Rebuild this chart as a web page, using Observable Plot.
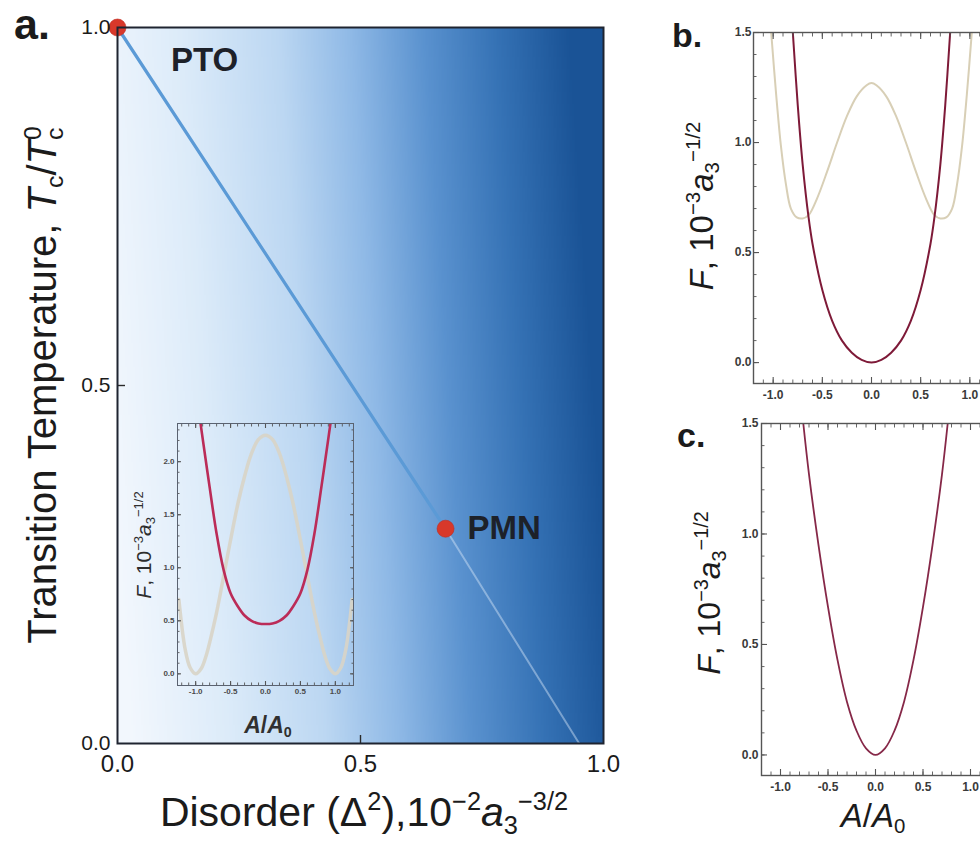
<!DOCTYPE html>
<html>
<head>
<meta charset="utf-8">
<script src="https://cdn.jsdelivr.net/npm/d3@7"></script>
<script src="https://cdn.jsdelivr.net/npm/@observablehq/plot@0.6"></script>
<style>
  html, body { margin: 0; padding: 0; background: #fff; overflow: hidden; }
  #fig { position: relative; width: 980px; height: 841px; overflow: hidden; background: #fff;
         font-family: "Liberation Sans", Arial, Helvetica, sans-serif; color: #1b1b1b; }
  .panel { position: absolute; }
  .panel svg { display: block; max-width: none; }
  .lbl { position: absolute; white-space: nowrap; line-height: 1; }
  .sp { font-size: 0.62em; position: relative; top: -0.62em; }
  .sb { font-size: 0.62em; position: relative; top: 0.3em; }
</style>
</head>
<body>
<div id="fig"></div>
<script>
// ---------- Panel a: transition temperature vs disorder ----------
const compounds = ["PTO", "PMN"];
const disorder = [0, 0.675];          // Δ², 10^-2 a3^-3/2
const tcRatio = [1, 0.3];             // Tc / Tc0
const extDisorder = [0.675, 0.95];    // continuation of the line down to Tc = 0
const extTc = [0.3, 0];
const aTicks = [0, 0.5, 1];
// shading of the disorder plane (left: ordered, right: strongly disordered)
const shadeStops = [0, 0.2, 0.4, 0.55, 0.7, 0.85, 1];
const shadeColors = ["#f2f7fd", "#dcebf9", "#bcd7f2", "#8fb9e6", "#5a92cf", "#3572b5", "#1a5396"];

// ---------- Inset: free energy F(A/A0) ----------
const insetA = [-1.24, -1.15, -1.08, -1.0, -0.92, -0.85, -0.79, -0.7, -0.64, -0.53, -0.45, -0.39, -0.3, -0.21, -0.1,
                0, 0.1, 0.21, 0.3, 0.39, 0.45, 0.53, 0.64, 0.7, 0.79, 0.85, 0.92, 1.0, 1.08, 1.15, 1.24];
const insetOrdered = [0.70, 0.23, 0.06, 0.00, 0.05, 0.17, 0.32, 0.58, 0.78, 1.16, 1.43, 1.62, 1.86, 2.06, 2.21,
                      2.25, 2.21, 2.06, 1.86, 1.62, 1.43, 1.16, 0.78, 0.58, 0.32, 0.17, 0.05, 0.00, 0.06, 0.23, 0.70];
const insetRelaxA = [-0.93, -0.9, -0.8, -0.7, -0.6, -0.5, -0.4, -0.3, -0.2, -0.1, 0,
                     0.1, 0.2, 0.3, 0.4, 0.5, 0.6, 0.7, 0.8, 0.9, 0.93];
const insetRelaxF = [2.36, 2.22, 1.76, 1.32, 0.98, 0.76, 0.64, 0.55, 0.5, 0.475, 0.47,
                     0.475, 0.5, 0.55, 0.64, 0.76, 0.98, 1.32, 1.76, 2.22, 2.36];
const insetXTicks = [-1, -0.5, 0, 0.5, 1];
const insetYTicks = [0, 0.5, 1, 1.5, 2];

// ---------- Panel b ----------
const bWellA = [-1.02, -0.97, -0.92, -0.87, -0.82, -0.76, -0.7, -0.64, -0.55, -0.45, -0.35, -0.25, -0.15, -0.05,
                0, 0.05, 0.15, 0.25, 0.35, 0.45, 0.55, 0.64, 0.7, 0.76, 0.82, 0.87, 0.92, 0.97, 1.02];
const bWellF = [1.5, 1.22, 0.98, 0.81, 0.7, 0.66, 0.655, 0.67, 0.75, 0.87, 1.0, 1.12, 1.21, 1.26,
                1.27, 1.26, 1.21, 1.12, 1.0, 0.87, 0.75, 0.67, 0.655, 0.66, 0.7, 0.81, 0.98, 1.22, 1.5];
const bBowlA = [-0.8, -0.75, -0.7, -0.64, -0.6, -0.5, -0.4, -0.3, -0.2, -0.1, 0,
                0.1, 0.2, 0.3, 0.4, 0.5, 0.6, 0.64, 0.7, 0.75, 0.8];
const bBowlF = [1.5, 1.17, 0.9, 0.66, 0.54, 0.33, 0.19, 0.1, 0.045, 0.012, 0,
                0.012, 0.045, 0.1, 0.19, 0.33, 0.54, 0.66, 0.9, 1.17, 1.5];

// ---------- Panel c ----------
const cBowlA = [-0.76, -0.7, -0.6, -0.5, -0.4, -0.3, -0.2, -0.1, 0, 0.1, 0.2, 0.3, 0.4, 0.5, 0.6, 0.7, 0.76];
const cBowlF = [1.5, 1.27, 0.95, 0.67, 0.43, 0.24, 0.11, 0.03, 0, 0.03, 0.11, 0.24, 0.43, 0.67, 0.95, 1.27, 1.5];

const sideXTicks = [-1, -0.5, 0, 0.5, 1];
const sideYTicks = [0, 0.5, 1, 1.5];

// ---------- helpers ----------
const zip = (xs, ys) => xs.map((x, i) => ({x, y: ys[i]}));
const fmt1 = d => d.toFixed(1);
const blank = () => "";
const FONT = '"Liberation Sans", Arial, Helvetica, sans-serif';
const svgStyle = {background: "transparent", overflow: "visible", maxWidth: "none", fontFamily: FONT};
const tenths = (lo, hi) => d3.range(lo, hi + 1).map(i => i / 10);

// short tick marks pointing into the frame: an axis whose ticks are shifted back across the edge
function inwardTicks(values, side, len, stroke, width) {
  const base = {ticks: values, tickSize: len, tickFormat: blank, label: null, stroke, strokeWidth: width};
  if (side === "bottom") return Plot.axisX({...base, anchor: "bottom", dy: -len});
  if (side === "top") return Plot.axisX({...base, anchor: "top", dy: len});
  if (side === "left") return Plot.axisY({...base, anchor: "left", dx: len});
  return Plot.axisY({...base, anchor: "right", dx: -len});
}

// Mathematica-style frame: inward major/minor ticks on all four sides, labels bottom/left
function frameAxes({xMajor, xMinor, yMajor, yMinor, font, color, padX, padY, major, minor, frameColor, frameWidth}) {
  const lab = {tickSize: 0, tickFormat: fmt1, fontSize: font, fontWeight: "bold", fill: color, label: null};
  const tc = "#555";
  return [
    ...["bottom", "top"].map(s => inwardTicks(xMinor, s, minor, tc, 0.9)),
    ...["bottom", "top"].map(s => inwardTicks(xMajor, s, major, tc, 1.1)),
    ...["left", "right"].map(s => inwardTicks(yMinor, s, minor, tc, 0.9)),
    ...["left", "right"].map(s => inwardTicks(yMajor, s, major, tc, 1.1)),
    Plot.axisX({...lab, ticks: xMajor, tickPadding: padX}),
    Plot.axisY({...lab, ticks: yMajor, tickPadding: padY}),
    Plot.frame({stroke: frameColor, strokeWidth: frameWidth})
  ];
}

const fig = document.getElementById("fig");
function place(node, left, top) {
  const d = document.createElement("div");
  d.className = "panel";
  d.style.left = left + "px";
  d.style.top = top + "px";
  d.appendChild(node);
  fig.appendChild(d);
}
function label(html, cx, cy, size, extra = "") {
  const d = document.createElement("div");
  d.className = "lbl";
  d.innerHTML = html;
  d.style.cssText += `left:${cx}px;top:${cy}px;font-size:${size}px;${extra}`;
  fig.appendChild(d);
  return d;
}

// ---------- draw panel a ----------
const points = compounds.map((name, i) => ({name, d: disorder[i], t: tcRatio[i]}));
const extension = extDisorder.map((d, i) => ({d, t: extTc[i]}));

const plotA = Plot.plot({
  width: 640, height: 790,
  marginLeft: 117, marginRight: 37, marginTop: 27, marginBottom: 47,
  style: svgStyle,
  x: {domain: [0, 1]},
  y: {domain: [0, 1]},
  color: {type: "linear", domain: shadeStops, range: shadeColors, interpolate: "rgb", clamp: true},
  marks: [
    Plot.raster({x1: 0, x2: 1, y1: 0, y2: 1, width: 300, height: 60, fill: (x, y) => x + 0.1 * (y - 0.3), imageRendering: "auto"}),
    Plot.line(extension, {x: "d", y: "t", stroke: "#d6e7f8", strokeWidth: 2, strokeOpacity: 0.45}),
    Plot.line(points, {x: "d", y: "t", stroke: "#5b9ad6", strokeWidth: 3.2}),
    Plot.dot(points, {x: "d", y: "t", r: 8.5, fill: "#d8382a", stroke: "#c02a20", strokeWidth: 0.6}),
    Plot.text(points.slice(0, 1), {x: "d", y: "t", text: "name", dx: 87, dy: 33, fontSize: 33, fontWeight: "bold", fill: "#1d2129"}),
    Plot.text(points.slice(1), {x: "d", y: "t", text: "name", dx: 22, textAnchor: "start", fontSize: 33, fontWeight: "bold", fill: "#1d2129"}),
    inwardTicks([0.5], "left", 8, "#2a2a2a", 1.4),
    inwardTicks([0.5], "bottom", 8, "#2a2a2a", 1.4),
    Plot.axisY({ticks: aTicks, tickSize: 0, tickPadding: 7, tickFormat: fmt1, fontSize: 21, fill: "#1b1b1b", label: null}),
    Plot.axisX({ticks: aTicks, tickSize: 0, tickPadding: 11, tickFormat: fmt1, fontSize: 24, fill: "#1b1b1b", label: null}),
    Plot.frame({stroke: "#1f2430", strokeWidth: 2})
  ]
});
place(plotA, 0, 0);

// ---------- inset ----------
const insetPlot = Plot.plot({
  width: 210, height: 290,
  marginLeft: 27, marginRight: 7, marginTop: 8, marginBottom: 20,
  style: svgStyle,
  x: {domain: [-1.26, 1.26]},
  y: {domain: [-0.11, 2.36]},
  marks: [
    Plot.line(zip(insetA, insetOrdered), {x: "x", y: "y", stroke: "#d8d4c6", strokeWidth: 3.5, strokeOpacity: 0.9, curve: "catmull-rom", clip: true}),
    Plot.line(zip(insetRelaxA, insetRelaxF), {x: "x", y: "y", stroke: "#bb2c58", strokeWidth: 2.6, curve: "catmull-rom", clip: true}),
    ...frameAxes({
      xMajor: insetXTicks, xMinor: tenths(-12, 12),
      yMajor: insetYTicks, yMinor: tenths(0, 23),
      font: 8, color: "#4a4a4a", padX: 3, padY: 3, major: 4, minor: 2.5,
      frameColor: "#5a6270", frameWidth: 1
    })
  ]
});
place(insetPlot, 150, 415);

// ---------- panel b ----------
const plotB = Plot.plot({
  width: 330, height: 410,
  marginLeft: 53, marginRight: 41, marginTop: 32, marginBottom: 27,
  style: svgStyle,
  x: {domain: [-1.2, 1.2]},
  y: {domain: [-0.095, 1.5]},
  marks: [
    Plot.line(zip(bWellA, bWellF), {x: "x", y: "y", stroke: "#d8cfb6", strokeWidth: 2, curve: "catmull-rom", clip: true}),
    Plot.line(zip(bBowlA, bBowlF), {x: "x", y: "y", stroke: "#7e1a38", strokeWidth: 2, curve: "catmull-rom", clip: true}),
    ...frameAxes({
      xMajor: sideXTicks, xMinor: tenths(-12, 12),
      yMajor: sideYTicks, yMinor: tenths(0, 15),
      font: 12, color: "#3a3a3a", padX: 7, padY: 2, major: 6, minor: 3.5,
      frameColor: "#555", frameWidth: 1.4
    })
  ]
});
place(plotB, 700, 0);

// ---------- panel c ----------
const plotC = Plot.plot({
  width: 330, height: 431,
  marginLeft: 61, marginRight: 41, marginTop: 13, marginBottom: 66,
  style: svgStyle,
  x: {domain: [-1.2, 1.2]},
  y: {domain: [-0.093, 1.5]},
  marks: [
    Plot.line(zip(cBowlA, cBowlF), {x: "x", y: "y", stroke: "#862848", strokeWidth: 1.8, curve: "catmull-rom", clip: true}),
    ...frameAxes({
      xMajor: sideXTicks, xMinor: tenths(-12, 12),
      yMajor: sideYTicks, yMinor: tenths(0, 15),
      font: 12, color: "#3a3a3a", padX: 7, padY: 3, major: 6, minor: 3.5,
      frameColor: "#555", frameWidth: 1.4
    })
  ]
});
place(plotC, 700, 410);

// ---------- titles and panel letters ----------
const center = "transform:translate(-50%,-50%);";
const vertical = "transform:translate(-50%,-50%) rotate(-90deg);";
const fLabel = '<i>F</i>, 10<span class="sp">−3</span><i>a</i><span class="sb">3</span><span class="sp">−1/2</span>';

label("a.", 14, 3, 43, "font-weight:bold;");
label("b.", 672, 18, 34, "font-weight:bold;");
label("c.", 677, 418, 34, "font-weight:bold;");

label('Transition Temperature, <i>T</i><span class="sb">c</span>/<i>T</i><span class="sb">c</span><span class="sp" style="margin-left:-0.5em">0</span>',
      42, 385, 40, vertical);
label('Disorder (Δ<span class="sp">2</span>),10<span class="sp">−2</span><i>a</i><span class="sb">3</span><span class="sp">−3/2</span>',
      364, 812, 41, center);

label(fLabel, 143, 545, 21, vertical + "color:#2e2e2e;");
label('<i>A</i>/<i>A</i><span class="sb">0</span>', 268, 725, 23, center + "color:#303030;font-weight:bold;");

label(fLabel, 701, 206, 33, vertical);
label(fLabel, 709, 593, 32, vertical);
label('<i>A</i>/<i>A</i><span class="sb">0</span>', 873, 815, 33, center);
</script>
</body>
</html>
